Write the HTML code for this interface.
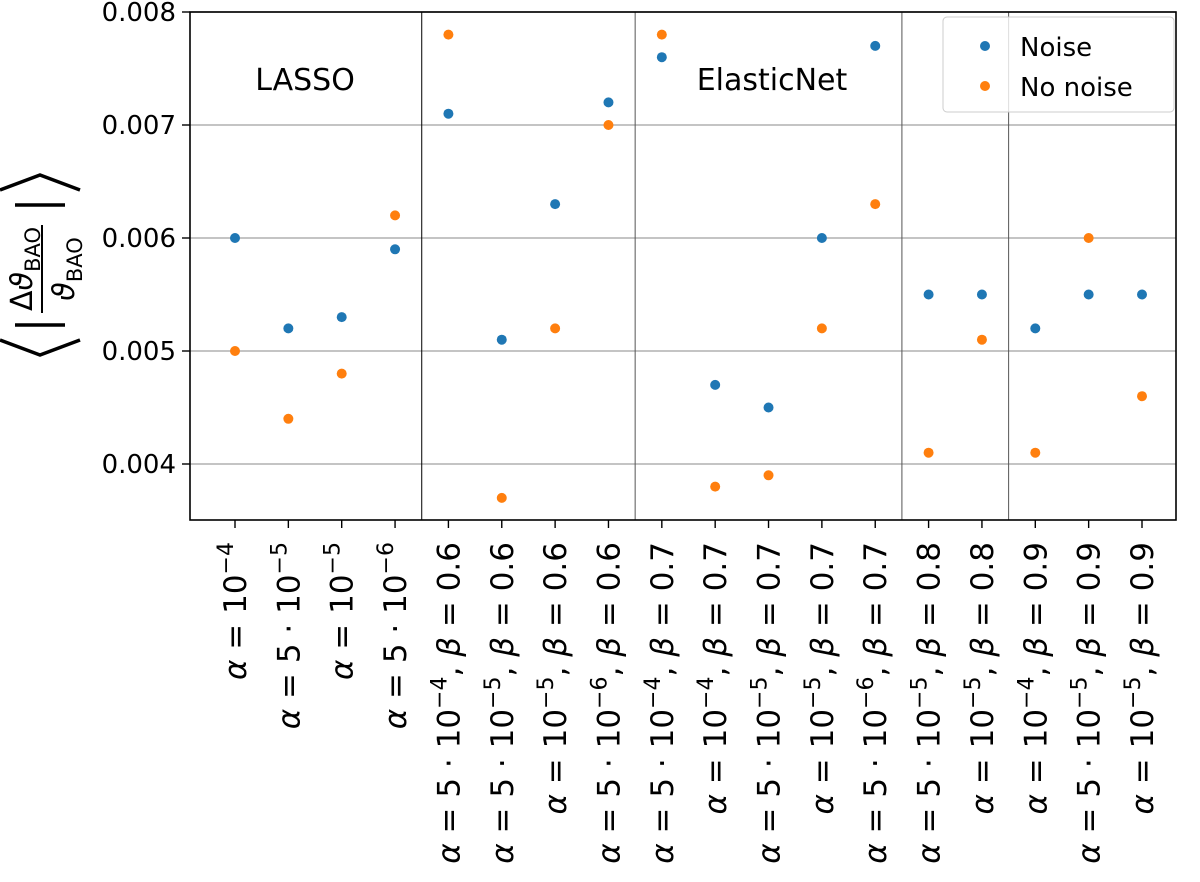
<!DOCTYPE html>
<html><head><meta charset="utf-8"><style>
html,body{margin:0;padding:0;background:#fff}
svg{display:block;font-family:"DejaVu Sans","Liberation Sans",sans-serif}
</style></head><body>
<svg id="chart" width="1200" height="882" viewBox="0 0 1200 882" xmlns="http://www.w3.org/2000/svg">
<g id="grid"></g>
<g id="seps"></g>
<g id="yticks"></g>
<g id="xticks"></g>
<g id="marks"></g>
<rect x="190" y="12" width="986" height="508" fill="none" stroke="#000" stroke-width="1.6"/>
<text x="305" y="90" font-size="30" text-anchor="middle">LASSO</text>
<text x="772" y="90" font-size="30" text-anchor="middle">ElasticNet</text>
<g>
<rect x="943" y="17" width="231" height="95" rx="4" fill="#fff" fill-opacity="0.8" stroke="#ccc"/>
<circle cx="985" cy="46" r="5" fill="#1f77b4"/>
<text x="1020" y="56" font-size="26">Noise</text>
<circle cx="985" cy="86" r="5" fill="#ff7f0e"/>
<text x="1020" y="96" font-size="26">No noise</text>
</g>
<g transform="translate(40,265) rotate(-90)" stroke="#000" stroke-width="3.5" fill="none">
<path d="M-75,-40 L-90,0 L-75,40"/>
<path d="M75,-40 L90,0 L75,40"/>
<line x1="-60" y1="-25" x2="-60" y2="25"/>
<line x1="60" y1="-25" x2="60" y2="25"/>
<line x1="-48" y1="2" x2="40" y2="2" stroke-width="2"/>
<text x="-4" y="-8" font-size="30" text-anchor="middle" stroke="none" fill="#000">Δ<tspan font-style="italic">ϑ</tspan><tspan font-size="21" dy="8">BAO</tspan></text>
<text x="-4" y="34" font-size="30" text-anchor="middle" stroke="none" fill="#000"><tspan font-style="italic">ϑ</tspan><tspan font-size="21" dy="8">BAO</tspan></text>
</g>
</svg>
<script>
const categories=["a1e-4","a5e-5","a1e-5","a5e-6","a5e-4 b0.6","a5e-5 b0.6","a1e-5 b0.6","a5e-6 b0.6","a5e-4 b0.7","a1e-4 b0.7","a5e-5 b0.7","a1e-5 b0.7","a5e-6 b0.7","a5e-5 b0.8","a1e-5 b0.8","a1e-4 b0.9","a5e-5 b0.9","a1e-5 b0.9"];
const alphaMant=["","5","","5","5","5","","5","5","","5","","5","5","","","5",""];
const alphaExp=["4","5","5","6","4","5","5","6","4","4","5","5","6","5","5","4","5","5"];
const betas=["","","","","0.6","0.6","0.6","0.6","0.7","0.7","0.7","0.7","0.7","0.8","0.8","0.9","0.9","0.9"];
const noise=[0.0060,0.0052,0.0053,0.0059,0.0071,0.0051,0.0063,0.0072,0.0076,0.0047,0.0045,0.0060,0.0077,0.0055,0.0055,0.0052,0.0055,0.0055];
const noNoise=[0.0050,0.0044,0.0048,0.0062,0.0078,0.0037,0.0052,0.0070,0.0078,0.0038,0.0039,0.0052,0.0063,0.0041,0.0051,0.0041,0.0060,0.0046];
const yTicks=[0.004,0.005,0.006,0.007,0.008];
const separators=[3.5,7.5,12.5,14.5];
const NS="http://www.w3.org/2000/svg";
const x=i=>235+i*(1142-235)/17;
const y=v=>464-(v-0.004)*113000;
function mk(t,a,p){const e=document.createElementNS(NS,t);for(const k in a)e.setAttribute(k,a[k]);p.appendChild(e);return e;}
const grid=document.getElementById('grid'),yt=document.getElementById('yticks'),xt=document.getElementById('xticks'),marks=document.getElementById('marks'),seps=document.getElementById('seps');
yTicks.forEach(v=>{
 const g=mk('line',{x1:190,x2:1176,y1:y(v),y2:y(v),stroke:'#b0b0b0','stroke-width':1.4},grid);
 
 
 mk('line',{x1:182,x2:190,y1:y(v),y2:y(v),stroke:'#000','stroke-width':1.4},yt);
 const t=mk('text',{x:176,y:y(v)+9,'font-size':26,'text-anchor':'end'},yt);
 t.textContent=v.toFixed(3);
 
 
});
separators.forEach((s,k)=>{
 const l=mk('line',{x1:x(s),x2:x(s),y1:12,y2:520,stroke:k==0?'#000':'#555','stroke-width':1},seps);
 
 
});
categories.forEach((c,i)=>{
 mk('line',{x1:x(i),x2:x(i),y1:520,y2:528,stroke:'#000','stroke-width':1.4},xt);
 const t=mk('text',{transform:`translate(${x(i)+11},542) rotate(-90)`,'font-size':31,'text-anchor':'end'},xt);
 
 
 let h=`<tspan font-style="italic">α</tspan> = `+(alphaMant[i]?alphaMant[i]+' · ':'')+`10<tspan font-size="22" dy="-13">−${alphaExp[i]}</tspan>`;
 if(betas[i]) h+=`<tspan dy="13">, </tspan><tspan font-style="italic">β</tspan> = ${betas[i]}`;
 t.innerHTML=h;
});
[[noise,'#1f77b4','noise-point'],[noNoise,'#ff7f0e','no-noise-point']].forEach(([arr,col,nm])=>{
 arr.forEach((v,i)=>{
  const c=mk('circle',{cx:x(i),cy:y(v),r:5,fill:col},marks);
  
  
 });
});
</script>
</body></html>
